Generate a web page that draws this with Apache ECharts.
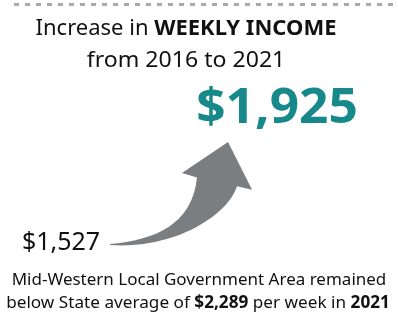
<!DOCTYPE html>
<html>
<head>
<meta charset="utf-8">
<script src="https://cdn.jsdelivr.net/npm/echarts@6/dist/echarts.min.js"></script>
<style>
  html, body { margin: 0; padding: 0; background: #fff; }
  #chart { width: 398px; height: 314px; }
</style>
</head>
<body>
<div id="chart"></div>
<script>
// data ------------------------------------------------------------
var years = [2016, 2021]
var weeklyIncome = [1527, 1925]
var stateAverage = 2289
var titleLines = ['Increase in ', 'WEEKLY INCOME', 'from 2016 to 2021']
var noteLines = ['Mid-Western Local Government Area remained', 'below State average of ', ' per week in ']

// arrow outline in units of (tail -> tip), tail = (0,0), tip = (1,1)
var arrowUpper = [[0.382, 0.042], [0.697, 0.189], [0.737, 0.653]]
var arrowHead = [[0.610, 0.696], [1, 1], [1.204, 0.532], [1.076, 0.565]]
var arrowLower = [[1.002, 0.287], [0.552, -0.056], [0, -0.01]]

var teal = '#17898a'
var grey = '#7b7e81'
var font = '"Noto Sans", sans-serif'

function money(v) {
  return '$' + v.toLocaleString('en-US')
}

var chartDom = document.getElementById('chart')
var myChart = echarts.init(chartDom)

var option = {
  animation: false,
  grid: { left: 110, right: 170, top: 142, bottom: 70 },
  xAxis: { type: 'value', min: years[0], max: years[1], show: false },
  yAxis: { type: 'value', min: weeklyIncome[0], max: weeklyIncome[1], show: false },
  series: [
    {
      type: 'custom',
      data: [[years[0], weeklyIncome[0], years[1], weeklyIncome[1]]],
      renderItem: function (params, api) {
        var p0 = api.coord([api.value(0), api.value(1)])
        var p1 = api.coord([api.value(2), api.value(3)])
        function pt(q) {
          var x = p0[0] + q[0] * (p1[0] - p0[0])
          var y = p0[1] + q[1] * (p1[1] - p0[1])
          return x.toFixed(2) + ' ' + y.toFixed(2)
        }
        var d = 'M' + pt([0, 0])
        d += ' C' + arrowUpper.map(pt).join(' ')
        arrowHead.forEach(function (q) { d += ' L' + pt(q) })
        d += ' C' + arrowLower.map(pt).join(' ')
        d += ' Z'
        return {
          type: 'path',
          shape: { pathData: d },
          style: { fill: grey }
        }
      },
      silent: true
    }
  ],
  graphic: [
    {
      type: 'line',
      shape: { x1: 14, y1: 4.5, x2: 398, y2: 4.5 },
      style: { stroke: '#a4aaae', lineWidth: 3, lineDash: [5, 6] }
    },
    {
      type: 'text',
      x: 186, y: 29, scaleX: 1.0,
      style: {
        text: '{n|' + titleLines[0] + '}{b|' + titleLines[1] + '}',
        align: 'center', verticalAlign: 'middle',
        rich: {
          n: { font: '22px ' + font, fill: '#111' },
          b: { font: 'bold 22px ' + font, fill: '#111' }
        }
      }
    },
    {
      type: 'text',
      x: 186, y: 61, scaleX: 1.05,
      style: {
        text: titleLines[2],
        align: 'center', verticalAlign: 'middle',
        font: '22px ' + font, fill: '#111'
      }
    },
    {
      type: 'text',
      x: 277, y: 109, scaleX: 1.07,
      style: {
        text: money(weeklyIncome[1]),
        align: 'center', verticalAlign: 'middle',
        font: 'bold 48px ' + font, fill: teal
      }
    },
    {
      type: 'text',
      x: 61, y: 243,
      style: {
        text: money(weeklyIncome[0]),
        align: 'center', verticalAlign: 'middle',
        font: '25px ' + font, fill: '#111'
      }
    },
    {
      type: 'text',
      x: 199, y: 280, scaleX: 1.0,
      style: {
        text: noteLines[0],
        align: 'center', verticalAlign: 'middle',
        font: '17px ' + font, fill: '#111'
      }
    },
    {
      type: 'text',
      x: 198, y: 303.5, scaleX: 1.01,
      style: {
        text: '{n|' + noteLines[1] + '}{b|' + money(stateAverage) + '}{n|' + noteLines[2] + '}{b|' + years[1] + '}',
        align: 'center', verticalAlign: 'middle',
        rich: {
          n: { font: '17px ' + font, fill: '#111' },
          b: { font: 'bold 17px ' + font, fill: '#111' }
        }
      }
    }
  ]
}

option && myChart.setOption(option)
</script>
</body>
</html>
